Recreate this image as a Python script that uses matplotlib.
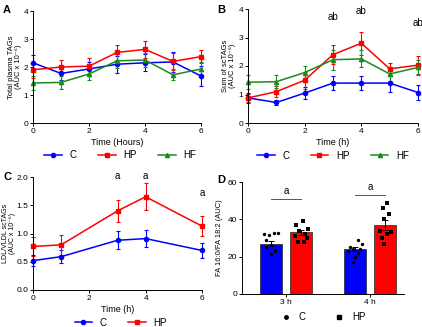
import matplotlib
matplotlib.use("Agg")
import matplotlib.pyplot as plt
from matplotlib.lines import Line2D
import numpy as np

plt.rcParams['font.family'] = ['Liberation Sans', 'DejaVu Sans']
plt.rcParams['font.size'] = 6.5

BLUE = '#0000ff'
RED = '#ff0000'
GREEN = '#1a8a1a'

# Panel A
time_a = [0, 1, 2, 3, 4, 5, 6]
a_c = [2.15, 1.77, 1.93, 2.10, 2.15, 2.18, 1.68]
a_c_err = [0.28, 0.25, 0.25, 0.30, 0.30, 0.35, 0.35]
a_hp = [1.90, 2.00, 2.03, 2.52, 2.63, 2.20, 2.37]
a_hp_err = [0.28, 0.25, 0.30, 0.27, 0.30, 0.30, 0.22]
a_hf = [1.43, 1.45, 1.75, 2.22, 2.25, 1.72, 1.93]
a_hf_err = [0.25, 0.22, 0.20, 0.25, 0.25, 0.20, 0.25]

# Panel B
b_c = [0.88, 0.72, 1.05, 1.40, 1.40, 1.40, 1.07]
b_c_err = [0.18, 0.10, 0.20, 0.25, 0.25, 0.30, 0.25]
b_hp = [0.88, 1.10, 1.50, 2.40, 2.80, 1.90, 2.03]
b_hp_err = [0.15, 0.20, 0.30, 0.32, 0.40, 0.22, 0.32]
b_hf = [1.43, 1.45, 1.77, 2.22, 2.25, 1.72, 1.95]
b_hf_err = [0.25, 0.22, 0.22, 0.35, 0.30, 0.25, 0.25]
b_sig_x = [3, 4, 6]
b_sig_y = [3.55, 3.75, 3.35]

# Panel C
time_c = [0, 1, 3, 4, 6]
c_c = [0.52, 0.59, 0.88, 0.91, 0.70]
c_c_err = [0.10, 0.11, 0.16, 0.15, 0.14]
c_hp = [0.77, 0.80, 1.40, 1.65, 1.13]
c_hp_err = [0.17, 0.18, 0.19, 0.24, 0.18]
c_sig_x = [3, 4, 6]
c_sig_y = [1.93, 1.93, 1.63]

# Panel D
d_groups = ['3 h', '4 h']
d_c = [27.0, 24.0]
d_c_err = [1.5, 1.2]
d_hp = [33.0, 37.0]
d_hp_err = [1.5, 2.5]
d_c_pts = [[32, 31.5, 32.5, 32.5, 26, 25, 23, 21.5, 29],
           [29, 27, 25, 24, 24, 23, 22, 20, 17]]
d_hp_pts = [[39, 37, 35, 34, 32, 31, 30, 28, 28],
            [49, 46, 43, 40, 34, 33, 32, 30, 27]]
d_sig_y = [51, 53]
jit_c = [[-0.08, -0.02, 0.04, 0.09, 0.00, -0.05, 0.05, 0.00, -0.06],
         [0.03, 0.08, -0.06, 0.06, -0.02, -0.08, 0.04, 0.00, -0.03]]
jit_hp = [[0.02, -0.06, 0.08, -0.03, 0.05, -0.07, 0.07, -0.04, 0.04],
          [0.02, -0.03, 0.04, -0.02, -0.07, 0.06, 0.02, -0.04, -0.02]]

fig = plt.figure(figsize=(4.22, 3.27), dpi=100)


def style(ax):
    for s in ['top', 'right']:
        ax.spines[s].set_visible(False)
    ax.spines['left'].set_linewidth(0.7)
    ax.spines['bottom'].set_linewidth(0.7)
    ax.tick_params(width=0.7, length=2.5, pad=1.0, labelsize=6)


def line(ax, x, y, e, color, marker):
    ax.errorbar(x, y, yerr=e, color=color, marker=marker, ms=3, lw=1.1,
                elinewidth=0.8, capsize=1.5, capthick=0.8, clip_on=False)


def legend(ax, colors, markers, labels, anchor):
    handles = [Line2D([], [], color=c, marker=m, ms=3, lw=1.1)
               for c, m in zip(colors, markers)]
    ax.legend(handles, labels, loc='upper center', bbox_to_anchor=anchor,
              ncol=len(labels), frameon=False, fontsize=7, handlelength=1.8,
              columnspacing=2.2, borderaxespad=0, handletextpad=0.8)


def ylabel(ax, text, x, size=5.4):
    ax.set_ylabel(text, fontsize=size, linespacing=1.05)
    ax.yaxis.set_label_coords(x, 0.5)


W, H = 422, 327


def add_ax(l, r, t, b):
    return fig.add_axes([l / W, 1 - b / H, (r - l) / W, (b - t) / H])


# A
ax = add_ax(33, 201, 11, 123)
line(ax, time_a, a_c, a_c_err, BLUE, 'o')
line(ax, time_a, a_hp, a_hp_err, RED, 's')
line(ax, time_a, a_hf, a_hf_err, GREEN, '^')
ax.set_xlim(0, 6)
ax.set_ylim(0, 4)
ax.set_xticks([0, 2, 4, 6])
ax.set_yticks([0, 1, 2, 3, 4])
ax.set_xlabel('Time (Hours)', labelpad=2)
ylabel(ax, 'Total plasma TAGs\n(AUC x 10⁻⁶)', -0.065)
style(ax)
legend(ax, [BLUE, RED, GREEN], ['o', 's', '^'], ['C', 'HP', 'HF'], (0.52, -0.21))
fig.text(3 / W, 1 - 10 / H, 'A', fontweight='bold', fontsize=8, va='center')

# B
ax = add_ax(248, 418, 9, 123)
line(ax, time_a, b_c, b_c_err, BLUE, 'o')
line(ax, time_a, b_hp, b_hp_err, RED, 's')
line(ax, time_a, b_hf, b_hf_err, GREEN, '^')
for x, y in zip(b_sig_x, b_sig_y):
    ax.text(x, y, 'ab', ha='center', va='bottom', fontsize=7, clip_on=False)
ax.set_xlim(0, 6)
ax.set_ylim(0, 4)
ax.set_xticks([0, 2, 4, 6])
ax.set_yticks([0, 1, 2, 3, 4])
ax.set_xlabel('Time (h)', labelpad=2)
ylabel(ax, 'Sum of scTAGs\n(AUC x 10⁻⁶)', -0.07)
style(ax)
legend(ax, [BLUE, RED, GREEN], ['o', 's', '^'], ['C', 'HP', 'HF'], (0.5, -0.21))
fig.text(217 / W, 1 - 10 / H, 'B', fontweight='bold', fontsize=8, va='center')

# C
ax = add_ax(33, 202, 177, 290)
line(ax, time_c, c_c, c_c_err, BLUE, 'o')
line(ax, time_c, c_hp, c_hp_err, RED, 's')
for x, y in zip(c_sig_x, c_sig_y):
    ax.text(x, y, 'a', ha='center', va='bottom', fontsize=7, clip_on=False)
ax.set_xlim(0, 6)
ax.set_ylim(0, 2.0)
ax.set_xticks([0, 2, 4, 6])
ax.set_yticks([0, 0.5, 1.0, 1.5, 2.0])
ax.set_yticklabels(['0.0', '0.5', '1.0', '1.5', '2.0'])
ax.set_xlabel('Time (h)', labelpad=2)
ylabel(ax, 'LDL/VLDL scTAGs\n(AUC x 10⁻⁶)', -0.1, 5.0)
style(ax)
legend(ax, [BLUE, RED], ['o', 's'], ['C', 'HP'], (0.52, -0.21))
fig.text(3 / W, 1 - 177 / H, 'C', fontweight='bold', fontsize=8, va='center')

# D
ax = add_ax(242, 404, 182, 294)
pos = np.arange(len(d_groups))
bw = 0.26
xc = pos - 0.18
xh = pos + 0.18
ax.bar(xc, d_c, bw, color=BLUE, edgecolor='#222222', lw=0.5, zorder=1)
ax.bar(xh, d_hp, bw, color=RED, edgecolor='#222222', lw=0.5, zorder=1)
ax.errorbar(xc, d_c, yerr=d_c_err, fmt='none', ecolor='black', elinewidth=0.7,
            capsize=2, capthick=0.7, zorder=2)
ax.errorbar(xh, d_hp, yerr=d_hp_err, fmt='none', ecolor='black', elinewidth=0.7,
            capsize=2, capthick=0.7, zorder=2)
for i in range(len(d_groups)):
    ax.scatter(xc[i] + np.array(jit_c[i]), d_c_pts[i], s=6, color='black',
               marker='o', zorder=3, lw=0)
    ax.scatter(xh[i] + np.array(jit_hp[i]), d_hp_pts[i], s=6, color='black',
               marker='s', zorder=3, lw=0)
    ax.plot([xc[i], xh[i]], [d_sig_y[i], d_sig_y[i]], color='#555555', lw=0.7)
    ax.text(pos[i], d_sig_y[i] + 1.5, 'a', ha='center', va='bottom', fontsize=7)
ax.set_xlim(-0.52, 1.40)
ax.set_ylim(0, 60)
ax.set_yticks([0, 20, 40, 60])
ax.set_xticks(pos)
ax.set_xticklabels(d_groups)
ylabel(ax, 'FA 16:0/FA 18:2 (AUC)', -0.115)
style(ax)
h1 = Line2D([], [], color='black', marker='o', ms=2.5, lw=0)
h2 = Line2D([], [], color='black', marker='s', ms=2.5, lw=0)
ax.legend([h1, h2], ['C', 'HP'], loc='upper center', bbox_to_anchor=(0.5, -0.13),
          ncol=2, frameon=False, fontsize=7, handlelength=1, columnspacing=3,
          borderaxespad=0, handletextpad=0.8)
fig.text(217 / W, 1 - 180 / H, 'D', fontweight='bold', fontsize=8, va='center')

fig.savefig('out.png', dpi=100)
